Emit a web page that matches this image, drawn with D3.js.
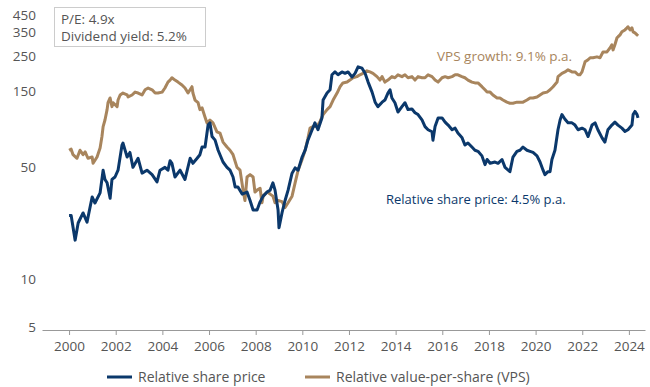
<!DOCTYPE html>
<html><head><meta charset="utf-8">
<script src="https://cdn.jsdelivr.net/npm/d3@7"></script>
<style>
body{margin:0;background:#fff;}
svg{display:block;font-family:"Open Sans",Roboto,sans-serif;}
</style></head>
<body><svg id="c" width="650" height="387"></svg>
<script>
const shareYears = [2000.00,2000.09,2000.26,2000.39,2000.60,2000.77,2000.99,2001.11,2001.33,2001.46,2001.54,2001.63,2001.76,2001.84,2001.97,2002.10,2002.27,2002.31,2002.49,2002.61,2002.74,2002.96,2003.13,2003.34,2003.56,2003.77,2003.90,2004.11,2004.24,2004.33,2004.41,2004.54,2004.76,2004.97,2005.19,2005.31,2005.49,2005.61,2005.70,2005.83,2005.96,2006.04,2006.13,2006.26,2006.39,2006.60,2006.77,2006.90,2007.03,2007.12,2007.24,2007.42,2007.63,2007.76,2007.89,2008.06,2008.19,2008.32,2008.49,2008.62,2008.74,2008.83,2008.96,2009.00,2009.13,2009.26,2009.39,2009.56,2009.69,2009.82,2009.99,2010.12,2010.24,2010.42,2010.54,2010.67,2010.84,2010.89,2011.06,2011.19,2011.27,2011.40,2011.53,2011.70,2011.83,2011.96,2012.13,2012.26,2012.39,2012.56,2012.69,2012.82,2012.99,2013.12,2013.24,2013.42,2013.54,2013.67,2013.76,2013.84,2013.97,2014.10,2014.27,2014.40,2014.53,2014.70,2014.83,2014.96,2015.13,2015.26,2015.39,2015.56,2015.60,2015.69,2015.82,2015.99,2016.12,2016.25,2016.42,2016.55,2016.67,2016.84,2016.97,2017.10,2017.27,2017.40,2017.53,2017.70,2017.83,2017.92,2018.05,2018.26,2018.39,2018.56,2018.69,2018.90,2019.03,2019.20,2019.33,2019.46,2019.63,2019.76,2019.89,2020.06,2020.19,2020.32,2020.40,2020.53,2020.62,2020.70,2020.83,2020.96,2021.05,2021.13,2021.26,2021.39,2021.56,2021.69,2021.82,2021.99,2022.12,2022.25,2022.42,2022.55,2022.67,2022.85,2022.97,2023.10,2023.27,2023.40,2023.53,2023.70,2023.83,2023.96,2024.13,2024.18,2024.26,2024.35,2024.39];
const shareValues = [25,25,17.5,22.4,25.9,22.7,32.6,29.9,34.6,48,42,40,32,42,43.5,48,69,71,58,62,50,57,46,48,45,40.5,48,50,48,55,53,43.5,48,42,57,53,57,60,67,67,92,95,78,74,64,54,50,48,43.5,37.7,37.7,34,35,31,27,27,30.4,33,35,36,40,36,27,20.9,26,31,36,46,49.6,48,58,64,74,86,95,86,102,132,146,153,190,198,190,198,194,198,184,194,213,209,194,171,148,128,120,128,132,146,153,136,127,111,120,127,115,116,110,107,99,90,86,83.5,74,90,102,102,96,92,86,88,82,77,69,71,67,64,63,59,52,56,53,54,53,56,50,47,58,63,64,67,64,63,62,59,54,48,45,47,47,56,64,86,99,107,100,95,95,92,86,88,86,78,92,95,86,76.5,72,86,92,96,92,88,84,86,92,107,112,107,102];

const vpsYears = [2000.00,2000.09,2000.17,2000.34,2000.47,2000.60,2000.69,2000.81,2000.99,2001.03,2001.20,2001.33,2001.41,2001.46,2001.54,2001.63,2001.67,2001.76,2001.84,2001.89,2002.06,2002.10,2002.19,2002.31,2002.49,2002.53,2002.70,2002.83,2002.96,2003.13,2003.26,2003.39,2003.56,2003.69,2003.81,2003.99,2004.11,2004.24,2004.33,2004.41,2004.54,2004.67,2004.84,2004.97,2005.10,2005.27,2005.31,2005.40,2005.53,2005.61,2005.70,2005.83,2005.91,2006.04,2006.17,2006.34,2006.47,2006.60,2006.77,2006.90,2007.03,2007.20,2007.33,2007.46,2007.54,2007.63,2007.76,2007.89,2007.97,2008.06,2008.19,2008.27,2008.32,2008.49,2008.62,2008.74,2008.83,2008.96,2009.13,2009.26,2009.39,2009.56,2009.69,2009.82,2009.99,2010.12,2010.24,2010.33,2010.46,2010.63,2010.76,2010.89,2011.06,2011.19,2011.32,2011.49,2011.62,2011.74,2011.92,2012.04,2012.17,2012.34,2012.47,2012.60,2012.77,2012.90,2013.03,2013.20,2013.33,2013.42,2013.54,2013.67,2013.84,2013.97,2014.10,2014.27,2014.40,2014.53,2014.70,2014.83,2014.96,2015.13,2015.26,2015.39,2015.56,2015.69,2015.82,2015.99,2016.12,2016.25,2016.42,2016.55,2016.67,2016.84,2016.97,2017.10,2017.27,2017.40,2017.53,2017.70,2017.83,2017.92,2018.05,2018.17,2018.35,2018.47,2018.60,2018.77,2018.90,2019.03,2019.20,2019.33,2019.46,2019.63,2019.76,2019.89,2020.06,2020.19,2020.32,2020.49,2020.62,2020.75,2020.92,2020.96,2021.13,2021.26,2021.39,2021.56,2021.69,2021.82,2021.90,2021.99,2022.12,2022.25,2022.34,2022.46,2022.63,2022.76,2022.89,2023.06,2023.19,2023.27,2023.32,2023.40,2023.49,2023.53,2023.62,2023.70,2023.83,2023.92,2023.96,2024.05,2024.13,2024.18,2024.26,2024.35,2024.39];
const vpsValues = [64,65,60,57,64,60,62.5,57,58,53,58,66,78,90,99,115,127,136,120,127,120,132,142,146,142,138,142,148,146,142,153,157,153,146,146,148,157,171,176,182,176,171,164,157,146,160,146,132,127,115,118,103,95,99,95,83.5,82,72,67,64,60,50,48,36,31,43.5,45,43.5,35,36,37,30,33,35,34,33,30,31,30.5,28,30,33,40,48,56,64,76,88,90,90,97,107,115,120,132,146,160,169,171,176,182,185,190,194,201,198,194,185,176,185,171,176,185,182,190,185,190,182,185,176,185,182,182,190,185,176,171,182,185,182,185,190,190,185,182,176,171,169,169,160,153,148,148,142,136,136,132,128,126,126,128,128,128,132,136,136,138,142,146,148,153,160,171,185,194,198,204,198,198,190,190,198,229,236,243,243,246,243,264,264,280,293,272,293,324,328,338,353,363,374,380,363,374,353,348,338,343];

const xTickValues = [2000,2002,2004,2006,2008,2010,2012,2014,2016,2018,2020,2022,2024];
const yTickValues = [5,10,50,150,250,350,450];
const seriesNames = ["Relative share price","Relative value-per-share (VPS)"];
const infoLines = ["P/E: 4.9x","Dividend yield: 5.2%"];
const annoVps = "VPS growth: 9.1% p.a.";
const annoShare = "Relative share price: 4.5% p.a.";

const NAVY = "#0b386b", TAN = "#a8855d", GREY = "#555";
const FS = "13.5px";
const svg = d3.select("#c");
const x = d3.scaleLinear().domain([1998.84, 2024.69]).range([42, 645]);
const y = d3.scaleLog().domain([5, 450]).range([327, 15]);

// x axis
const xAxis = svg.append("g").attr("transform","translate(0,330)")
  .call(d3.axisBottom(x).tickValues(xTickValues).tickFormat(d3.format("d")).tickSize(5).tickSizeOuter(0).tickPadding(6));
xAxis.select(".domain").attr("stroke","#999");
xAxis.selectAll(".tick line").attr("stroke","#999");
xAxis.selectAll("text").attr("fill",GREY).style("font-size",FS).style("font-family","'Open Sans'");

// y axis
const yAxis = svg.append("g").attr("transform","translate(36,0)")
  .call(d3.axisLeft(y).tickValues(yTickValues).tickFormat(d3.format("d")).tickSize(0).tickPadding(0));
yAxis.select(".domain").remove();
yAxis.selectAll("text").attr("fill",GREY).style("font-size",FS).style("font-family","'Open Sans'");

const line = d3.line().x(d => x(d[0])).y(d => y(d[1]));
const vpsData = d3.zip(vpsYears, vpsValues);
const shareData = d3.zip(shareYears, shareValues);
svg.append("path").datum(vpsData).attr("d", line).attr("fill","none").attr("stroke",TAN).attr("stroke-width",3).attr("stroke-linejoin","round");
svg.append("path").datum(shareData).attr("d", line).attr("fill","none").attr("stroke",NAVY).attr("stroke-width",3).attr("stroke-linejoin","round");

// info box
svg.append("rect").attr("x",54.5).attr("y",7.5).attr("width",151).attr("height",39).attr("fill","#fff").attr("stroke","#ccc");
svg.selectAll("text.info").data(infoLines).enter().append("text").attr("class","info")
  .attr("x",61).attr("y",(d,i)=>24+i*17).attr("fill",GREY).style("font-size","13.5px").text(d=>d);

// annotations
svg.append("text").attr("x",437).attr("y",61).attr("fill",TAN).style("font-size",FS).text(annoVps);
svg.append("text").attr("x",386).attr("y",204).attr("fill",NAVY).style("font-size","13px").text(annoShare);

// legend
const legX = [107, 305];
const legColors = [NAVY, TAN];
seriesNames.forEach((n,i)=>{
  svg.append("line").attr("x1",legX[i]).attr("x2",legX[i]+25).attr("y1",377).attr("y2",377).attr("stroke",legColors[i]).attr("stroke-width",3);
  svg.append("text").attr("x",legX[i]+31).attr("y",382).attr("fill",GREY).style("font-size","14px").text(n);
});
</script></body></html>
